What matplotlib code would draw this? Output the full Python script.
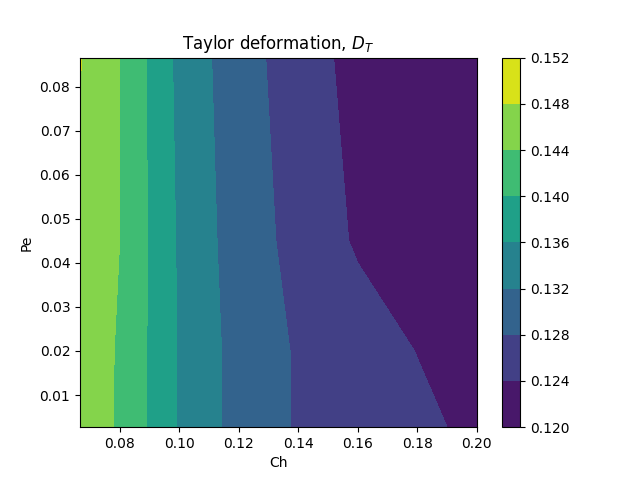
import numpy as np
from matplotlib import pyplot as plt

ch = np.array([1/15, 0.08, 0.10, 0.12, 0.14, 0.16, 0.18, 0.20])
pe = np.array([0.0027, 0.02, 0.045, 0.0866])

# Taylor deformation (rows = Pe, cols = Ch)
d_t = np.array([
    [0.1465, 0.1435, 0.1357, 0.1305, 0.1276, 0.1262, 0.1250, 0.1230],
    [0.1465, 0.1436, 0.1357, 0.1305, 0.1276, 0.1260, 0.1239, 0.1225],
    [0.1468, 0.1440, 0.1355, 0.1300, 0.1268, 0.1235, 0.1215, 0.1205],
    [0.1482, 0.1440, 0.1350, 0.1295, 0.1262, 0.1225, 0.1210, 0.1200],
])

levels = np.arange(0.120, 0.1521, 0.004)

fig, ax = plt.subplots(figsize=(6.4, 4.8), dpi=100)
cs = ax.contourf(ch, pe, d_t, levels=levels, cmap='viridis')
fig.colorbar(cs, ax=ax)
ax.set_xlabel('Ch')
ax.set_ylabel('Pe')
ax.set_title(r'Taylor deformation, $D_T$')
plt.savefig('out.png', dpi=100)
